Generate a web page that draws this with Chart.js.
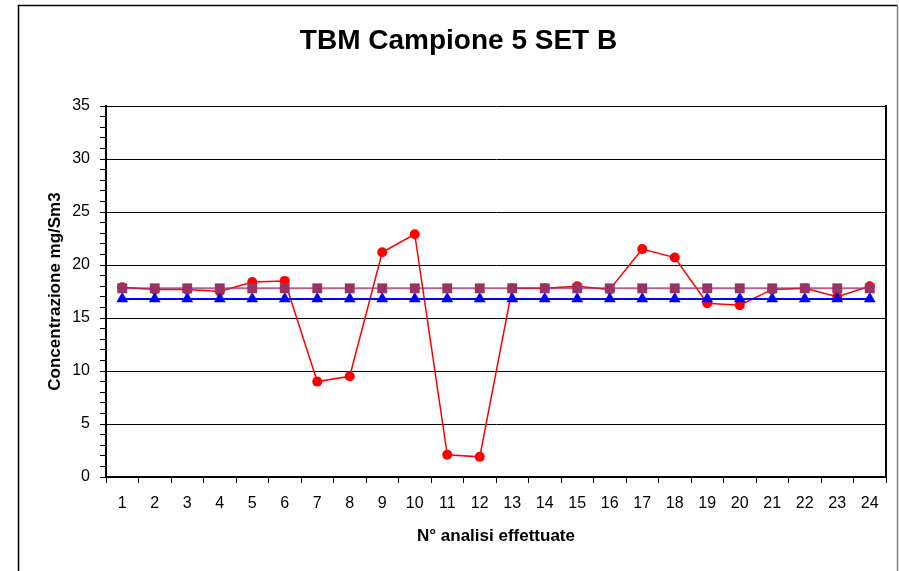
<!DOCTYPE html>
<html>
<head>
<meta charset="utf-8">
<title>TBM Campione 5 SET B</title>
<script src="https://cdn.jsdelivr.net/npm/chart.js@4.4.1/dist/chart.umd.min.js"></script>
<style>
  html, body { margin: 0; padding: 0; background: #fff; }
  #chartCanvas { display: block; }
</style>
</head>
<body>
<canvas id="chartCanvas" width="899" height="571"></canvas>
<script>
// categories (N° analisi)
var analisi = ['1','2','3','4','5','6','7','8','9','10','11','12',
               '13','14','15','16','17','18','19','20','21','22','23','24'];

// measured concentrations (red)
var misure = [17.9, 17.7, 17.7, 17.5, 18.4, 18.5, 9.0, 9.5, 21.2, 22.9, 2.1, 1.9,
              17.8, 17.8, 18.0, 17.7, 21.5, 20.7, 16.4, 16.2, 17.7, 17.8, 17.0, 18.0];

// reference line (purple squares)
var riferimento = [17.8, 17.8, 17.8, 17.8, 17.8, 17.8, 17.8, 17.8, 17.8, 17.8, 17.8, 17.8,
                   17.8, 17.8, 17.8, 17.8, 17.8, 17.8, 17.8, 17.8, 17.8, 17.8, 17.8, 17.8];

// lower line (blue triangles)
var limite = [16.8, 16.8, 16.8, 16.8, 16.8, 16.8, 16.8, 16.8, 16.8, 16.8, 16.8, 16.8,
              16.8, 16.8, 16.8, 16.8, 16.8, 16.8, 16.8, 16.8, 16.8, 16.8, 16.8, 16.8];

var yTicks = [0, 5, 10, 15, 20, 25, 30, 35];

var FONT = "'Liberation Sans', Arial, sans-serif";

// outer frame like the excel chart box
var frame = {
  id: 'frame',
  beforeDraw: function(chart) {
    var c = chart.ctx;
    c.save();
    c.fillStyle = '#fff';
    c.fillRect(0, 0, chart.width, chart.height);
    c.lineWidth = 1.5;
    c.strokeStyle = '#000';
    c.beginPath();
    c.moveTo(18.5, chart.height + 2);
    c.lineTo(18.5, 5.5);
    c.lineTo(897.5, 5.5);
    c.stroke();
    c.strokeStyle = '#808080';
    c.beginPath();
    c.moveTo(897.5, 5.5);
    c.lineTo(897.5, chart.height + 2);
    c.stroke();
    c.restore();
  }
};

var ctx = document.getElementById('chartCanvas');

var chart = new Chart(ctx, {
  type: 'line',
  data: {
    labels: analisi,
    datasets: [
      {
        label: 'riferimento',
        data: riferimento,
        borderColor: 'rgba(153,51,102,0.75)',
        borderWidth: 2,
        pointStyle: 'rect',
        pointRadius: 7,
        pointBackgroundColor: '#993366',
        pointBorderColor: '#993366',
        pointBorderWidth: 0,
        fill: false,
        tension: 0
      },
      {
        label: 'limite',
        data: limite,
        borderColor: '#0000FF',
        borderWidth: 2,
        pointStyle: 'triangle',
        pointRadius: 6.8,
        pointBackgroundColor: '#0000FF',
        pointBorderColor: '#0000FF',
        pointBorderWidth: 0,
        fill: false,
        tension: 0
      },
      {
        label: 'misure',
        data: misure,
        borderColor: '#FF0000',
        borderWidth: 1.5,
        pointStyle: 'circle',
        pointRadius: 5,
        pointBackgroundColor: '#FF0000',
        pointBorderColor: '#FF0000',
        pointBorderWidth: 0,
        fill: false,
        tension: 0
      }
    ]
  },
  options: {
    responsive: false,
    animation: false,
    devicePixelRatio: 1,
    layout: { padding: { left: 18, right: 0, top: 0, bottom: 0 } },
    plugins: {
      legend: { display: false },
      tooltip: { enabled: false },
      title: {
        display: true,
        text: 'TBM Campione 5 SET B',
        color: '#000',
        font: { family: FONT, size: 28, weight: 'bold', lineHeight: 1.2 },
        padding: { top: 24.5, bottom: 47.9 }
      }
    },
    scales: {
      x: {
        type: 'category',
        offset: true,
        grid: {
          offset: true,
          drawOnChartArea: false,
          drawTicks: true,
          tickLength: 6,
          tickColor: '#000'
        },
        border: { display: true, color: '#000', width: 2 },
        ticks: {
          color: '#000',
          font: { family: FONT, size: 16 },
          padding: 11,
          maxRotation: 0,
          autoSkip: false
        },
        title: {
          display: true,
          text: 'N° analisi effettuate',
          color: '#000',
          font: { family: FONT, size: 17, weight: 'bold', lineHeight: 1.2 },
          padding: { top: 0, bottom: 24 }
        },
        afterFit: function(scale) { scale.height = 94; }
      },
      y: {
        type: 'linear',
        min: 0,
        max: 35,
        grid: {
          color: function(c) {
            return (c.tick && c.tick.value % 5 === 0) ? '#000' : 'rgba(0,0,0,0)';
          },
          lineWidth: 1,
          drawTicks: true,
          tickLength: 6,
          tickColor: '#000'
        },
        border: { display: true, color: '#000', width: 2 },
        ticks: {
          stepSize: 1,
          maxTicksLimit: 40,
          autoSkip: false,
          color: '#000',
          font: { family: FONT, size: 16 },
          padding: 10,
          callback: function(v) {
            return yTicks.indexOf(v) >= 0 ? String(v) : '';
          }
        },
        title: {
          display: true,
          text: 'Concentrazione mg/Sm3',
          color: '#000',
          font: { family: FONT, size: 17, weight: 'bold', lineHeight: 1.2 },
          padding: { top: 27, bottom: 0 }
        },
        afterFit: function(scale) { scale.width = 88; }
      },
      yRight: {
        type: 'linear',
        position: 'right',
        min: 0,
        max: 35,
        grid: { drawOnChartArea: false, drawTicks: false },
        border: { display: true, color: '#000', width: 2 },
        ticks: { display: false },
        afterFit: function(scale) { scale.width = 13; }
      }
    }
  },
  plugins: [frame]
});
</script>
</body>
</html>
